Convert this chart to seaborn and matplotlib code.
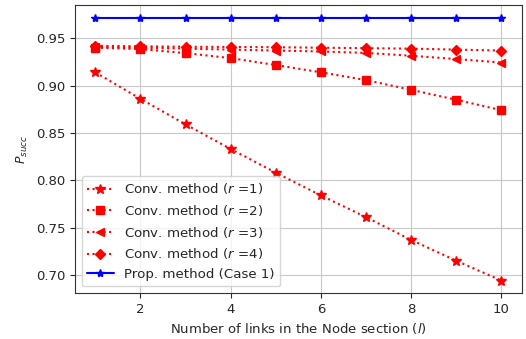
import matplotlib
matplotlib.use("Agg")
import matplotlib.pyplot as plt
import seaborn as sns
import numpy as np

links = [1, 2, 3, 4, 5, 6, 7, 8, 9, 10]
conv_r1 = [0.914, 0.886, 0.859, 0.833, 0.808, 0.784, 0.761, 0.737, 0.715, 0.694]
conv_r2 = [0.940, 0.9386, 0.9343, 0.929, 0.9217, 0.914, 0.9058, 0.8955, 0.885, 0.874]
conv_r3 = [0.941, 0.940, 0.939, 0.938, 0.937, 0.936, 0.9345, 0.9315, 0.928, 0.9243]
conv_r4 = [0.942, 0.9415, 0.941, 0.9408, 0.9405, 0.940, 0.9395, 0.939, 0.938, 0.937]
prop_case1 = [0.9715] * 10

labels = ["Conv. method ($r$ =1)", "Conv. method ($r$ =2)",
          "Conv. method ($r$ =3)", "Conv. method ($r$ =4)",
          "Prop. method (Case 1)"]

sns.set_style("ticks")
plt.rcParams['font.family'] = ['DejaVu Sans']
plt.rcParams['font.size'] = 9

fig = plt.figure(figsize=(5.26, 3.39), dpi=100)
ax = fig.add_axes([0.1426, 0.1357, 0.8494, 0.8493])

series = [conv_r1, conv_r2, conv_r3, conv_r4, prop_case1]
styles = [("*", ":", "red", 7), ("s", ":", "red", 6), ("<", ":", "red", 6),
          ("D", ":", "red", 5.5), ("*", "-", "blue", 6)]
for vals, lab, (mk, ls, col, ms) in zip(series, labels, styles):
    sns.lineplot(x=links, y=vals, ax=ax, marker=mk, linestyle=ls, color=col,
                 markersize=ms, markeredgecolor=col, markeredgewidth=1,
                 label=lab, linewidth=1.5)

ax.set_xlim(0.55, 10.45)
ax.set_ylim(0.681, 0.985)
ax.set_xticks([2, 4, 6, 8, 10])
ax.set_yticks([0.70, 0.75, 0.80, 0.85, 0.90, 0.95])
ax.grid(True, color="#c8c8c8", linewidth=0.8)
ax.tick_params(labelsize=9.5, direction="out")
for s in ax.spines.values():
    s.set_visible(True)
    s.set_color("#333333")
ax.set_xlabel("Number of links in the Node section ($l$)", fontsize=9.5)
ax.set_ylabel("$P_{succ}$", fontsize=9)
ax.legend(loc="lower left", fontsize=9.6, frameon=True)

fig.savefig("out.png", dpi=100)
